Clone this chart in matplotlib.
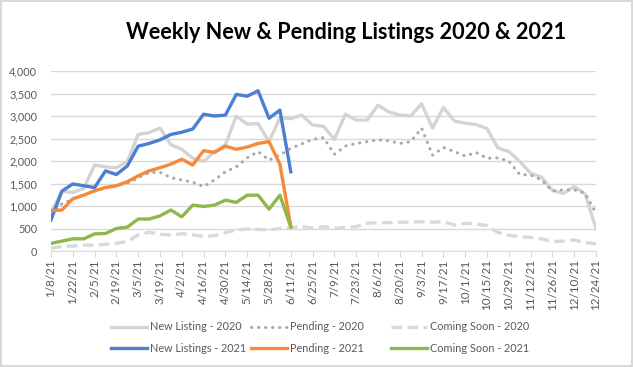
import matplotlib
matplotlib.use("Agg")
import matplotlib.pyplot as plt
import pandas as pd

# week-ending dates, 1/8/21 .. 12/24/21
weeks = pd.date_range("2021-01-08", periods=51, freq="7D")
week_labels = [f"{d.month}/{d.day}/{d.year % 100}" for d in weeks]

new_2020 = [850, 1330, 1300, 1390, 1910, 1870, 1850, 1990, 2590, 2630,
            2730, 2360, 2260, 2060, 1990, 2210, 2360, 3000, 2820, 2830,
            2430, 2960, 2940, 3020, 2800, 2770, 2480, 3040, 2910, 2910,
            3240, 3090, 3020, 3000, 3270, 2730, 3190, 2890, 2840, 2810,
            2720, 2290, 2210, 1990, 1730, 1640, 1350, 1280, 1430, 1270, 500]
pending_2020 = [830, 1050, 1150, 1250, 1330, 1400, 1460, 1500, 1630, 1740,
                1750, 1630, 1580, 1530, 1430, 1580, 1760, 1870, 2070, 2210,
                2020, 2130, 2280, 2380, 2480, 2520, 2150, 2330, 2390, 2430,
                2470, 2450, 2390, 2430, 2730, 2130, 2300, 2210, 2110, 2190,
                2060, 2070, 2000, 1700, 1690, 1580, 1330, 1360, 1360, 1280, 840]
soon_2020 = [60, 100, 110, 130, 130, 150, 170, 210, 360, 415,
             370, 355, 385, 360, 320, 340, 410, 470, 490, 480,
             470, 500, 520, 545, 510, 540, 500, 525, 540, 615,
             630, 630, 640, 640, 650, 640, 650, 580, 615, 600,
             565, 410, 350, 320, 300, 270, 210, 220, 245, 190, 160]

new_2021 = [690, 1330, 1490, 1450, 1410, 1780, 1700, 1890, 2330, 2390,
            2470, 2590, 2640, 2710, 3040, 3000, 3020, 3480, 3440, 3560,
            2950, 3130, 1760]
pending_2021 = [900, 910, 1160, 1240, 1340, 1410, 1450, 1540, 1670, 1780,
                1850, 1930, 2040, 1910, 2230, 2190, 2330, 2260, 2310, 2390,
                2430, 1930, 540]
soon_2021 = [170, 220, 270, 270, 380, 390, 500, 530, 710, 710,
             780, 910, 760, 1020, 990, 1020, 1130, 1080, 1240, 1240,
             930, 1240, 530]

plt.rcParams['font.family'] = ['Lato', 'DejaVu Sans']

fig = plt.figure(figsize=(6.33, 3.67), dpi=100)
fig.patch.set_edgecolor('#d9d9d9')
fig.patch.set_linewidth(1.5)
ax = fig.add_axes([51 / 633, 116 / 367, 545 / 633, 180 / 367])

x20 = range(len(new_2020))
x21 = range(len(new_2021))
lw = 2.4
h1, = ax.plot(x20, new_2020, color='#d4d4d4', lw=lw)
h2, = ax.plot(x20, pending_2020, color='#a9a9a9', lw=2.2, linestyle=(0, (0.1, 2.2)),
              dash_capstyle='round')
h3, = ax.plot(x20, soon_2020, color='#d9d9d9', lw=lw, linestyle=(0, (3.2, 1.6)))
h4, = ax.plot(x21, new_2021, color='#4a7fd2', lw=lw)
h5, = ax.plot(x21, pending_2021, color='#f68a3a', lw=lw)
h6, = ax.plot(x21, soon_2021, color='#8db84c', lw=lw)

ax.set_xlim(0, len(week_labels) - 1)
ax.set_ylim(0, 4000)
ax.set_yticks(range(0, 4001, 500))
ax.set_yticklabels([f"{v:,}" for v in range(0, 4001, 500)])
ax.set_xticks(range(0, len(week_labels), 2))
ax.set_xticklabels(week_labels[::2], rotation=90)
ax.grid(axis='y', color='#d9d9d9', lw=1)
ax.set_axisbelow(True)
for s in ['left', 'right', 'top']:
    ax.spines[s].set_visible(False)
ax.spines['bottom'].set_color('#d9d9d9')
ax.tick_params(axis='y', length=0, labelsize=7.8, labelcolor='#595959', pad=10)
ax.tick_params(axis='x', length=4, color='#d9d9d9', labelsize=8.4,
               labelcolor='#595959', pad=2)

fig.text(0.547, 0.912, "Weekly New & Pending Listings 2020 & 2021",
         ha='center', va='center', fontsize=15.6, fontweight='bold', color='black')

# legend: one block per column so columns sit where the reference has them
cols = [([h1, h4], ["New Listing - 2020", "New Listings - 2021"], 111),
        ([h2, h5], ["Pending - 2020", "Pending - 2021"], 251),
        ([h3, h6], ["Coming Soon - 2020", "Coming Soon - 2021"], 391)]
for handles, labels, x0 in cols:
    fig.legend(handles, labels, loc='center left',
               bbox_to_anchor=(x0 / 633, 1 - 337.5 / 367), frameon=False,
               fontsize=7.8, labelcolor='#595959', handlelength=3.3,
               handletextpad=0.3, labelspacing=0.95, borderpad=0,
               borderaxespad=0)

fig.savefig("out.png", dpi=100)
